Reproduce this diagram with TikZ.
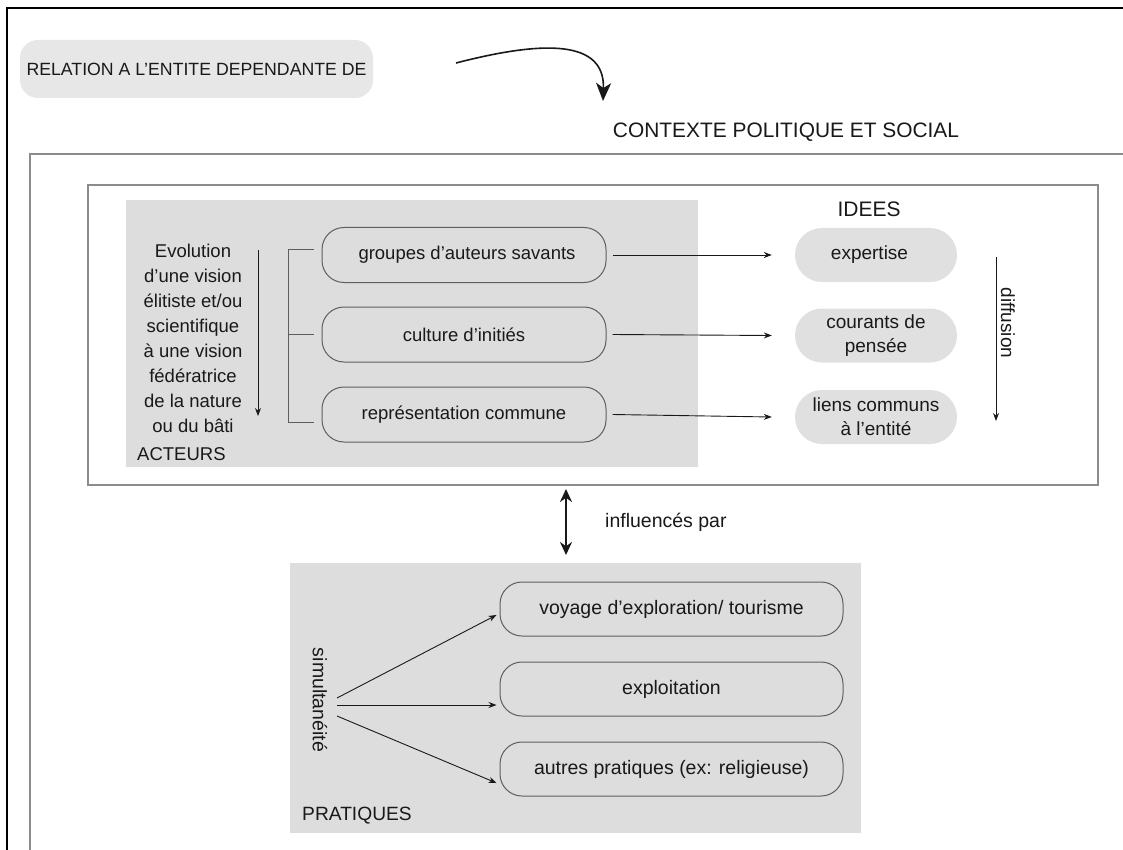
\documentclass[tikz,border=0pt]{standalone}
\usepackage{fontspec}
\setmainfont{Liberation Sans}
\usetikzlibrary{arrows.meta,calc}
\definecolor{relgray}{RGB}{230,231,230}
\definecolor{boxgray}{RGB}{221,221,221}
\definecolor{pillgray}{RGB}{224,224,224}
\definecolor{framegray}{RGB}{140,140,140}
\definecolor{edgegray}{RGB}{95,95,95}
\definecolor{txt}{RGB}{25,25,25}
\tikzset{
  fs/.style={font=\fontsize{#1}{24}\selectfont},
  frameline/.style={draw=framegray,line width=1.8pt},
  areabox/.style={fill=boxgray,draw=none,inner sep=0pt},
  actbox/.style={draw=edgegray,line width=1pt,rounded corners=22pt,inner sep=0pt,minimum width=284pt,minimum height=55pt,text=txt,fs=18.5},
  pill/.style={fill=pillgray,draw=none,rounded corners=27pt,inner sep=0pt,minimum width=162pt,minimum height=54pt,text=txt,align=center,font=\fontsize{19}{24}\selectfont},
  pratbox/.style={draw=edgegray,line width=1pt,rounded corners=22pt,inner sep=0pt,minimum width=343pt,minimum height=54pt,text=txt,fs=19.5},
  arr/.style={draw=txt,line width=0.9pt,-{Stealth[length=8pt,width=6pt]}},
  thinline/.style={draw=edgegray,line width=1pt},
  lbl/.style={text=txt,inner sep=0pt}
}
\begin{document}
\begin{tikzpicture}[x=1pt,y=-1pt]
\useasboundingbox (0,0) rectangle (1123,850);
\fill[white] (0,0) rectangle (1123,850);
% outer frames
\draw[black,line width=2.4pt] (7,851) -- (7,8) -- (1124,8);
\draw[frameline] (30,851) -- (30,154) -- (1124,154);
% top relation
\node[fill=relgray,rounded corners=18pt,minimum width=353pt,minimum height=58pt,inner sep=0pt,text=txt,fs=17.7] (rel) at (196.5,69) {RELATION A L’ENTITE DEPENDANTE DE};
\coordinate (relend) at (456,63);
\node[lbl,fs=20.9] (ctx) at (786,132) {CONTEXTE POLITIQUE ET SOCIAL};
\draw[line width=1.6pt,txt,-{Stealth[length=18pt,width=15pt,inset=5pt]}] (relend) .. controls (545,40) and (605,40) .. (603,101);
% ideas frame
\node[draw=framegray,line width=1.3pt,minimum width=1010pt,minimum height=300pt,inner sep=0pt] (ideasframe) at (593,335) {};
% actors area
\node[areabox,minimum width=572pt,minimum height=267pt] (actarea) at (412,333.5) {};
\node[lbl,align=center,font=\fontsize{18.5}{25}\selectfont] (evo) at (193,338) {Evolution\\d’une vision\\élitiste et/ou\\scientifique\\à une vision\\fédératrice\\de la nature\\ou du bâti};
\node[lbl,anchor=west,fs=18.5] (acteurs) at (137,454) {ACTEURS};
\coordinate (evotop) at (258,250);
\coordinate (evobot) at (258,416);
\draw[arr] (evotop) -- (evobot);
\node[actbox] (a1) at (464,255) {\hspace{6pt}groupes d’auteurs savants};
\node[actbox] (a2) at (464,334.5) {culture d’initiés\hspace{22pt}};
\node[actbox] (a3) at (464,414.5) {représentation commune\hspace{20pt}};
\coordinate (b1) at (314,249);
\coordinate (b2) at (314,334);
\coordinate (b3) at (314,422);
\draw[thinline] (b1) -- (288,249) -- (288,422) -- (b3);
\draw[thinline] (288,334) -- (b2);
% ideas
\node[lbl,fs=21] (idees) at (869,209) {IDEES};
\node[pill] (i1) at (876,255) {expertise\hspace{13pt}};
\node[pill] (i2) at (876,335.5) {courants de\\pensée};
\node[pill] (i3) at (876,417) {liens communs\\à l’entité};
\draw[arr] ([xshift=6pt]a1.east) -- ([xshift=-23pt]i1.west);
\draw[arr] ([xshift=6pt]a2.east) -- ([xshift=-23pt]i2.west);
\draw[arr] ([xshift=6pt]a3.east) -- ([xshift=-23pt]i3.west);
\coordinate (dtop) at (996,257);
\coordinate (dbot) at (996,421);
\draw[arr] (dtop) -- (dbot);
\node[lbl,rotate=-90,fs=19] (diff) at (1008,323) {diffusion};
% influence
\coordinate (inftop) at (566,489);
\coordinate (infbot) at (566,555);
\draw[txt,line width=2.6pt,{Stealth[length=13pt,width=12pt]}-{Stealth[length=13pt,width=12pt]}] (inftop) -- (infbot);
\node[lbl,anchor=west,fs=19.5] (infl) at (605,522) {influencés par};
% pratiques
\node[areabox,minimum width=571pt,minimum height=270pt] (pratarea) at (575.5,698) {};
\node[pratbox] (p1) at (671.5,609) {voyage d’exploration/ tourisme\hspace{26pt}};
\node[pratbox] (p2) at (671.5,689) {exploitation\hspace{76pt}};
\node[pratbox] (p3) at (671.5,769) {autres pratiques (ex: religieuse)\hspace{28pt}};
\node[lbl,rotate=-90,fs=19.5] (simu) at (320,700) {simultanéité};
\node[lbl,anchor=west,fs=19.2] (prat) at (302,816) {PRATIQUES};
\coordinate (s1) at (337,698);
\coordinate (s2) at (337,705);
\coordinate (s3) at (337,716);
\draw[arr] (s1) -- ($(p1.west)+(-3,6)$);
\draw[arr] (s2) -- ($(p2.west)+(-3,16)$);
\draw[arr] (s3) -- ($(p3.west)+(-3,14)$);
\end{tikzpicture}
\end{document}
